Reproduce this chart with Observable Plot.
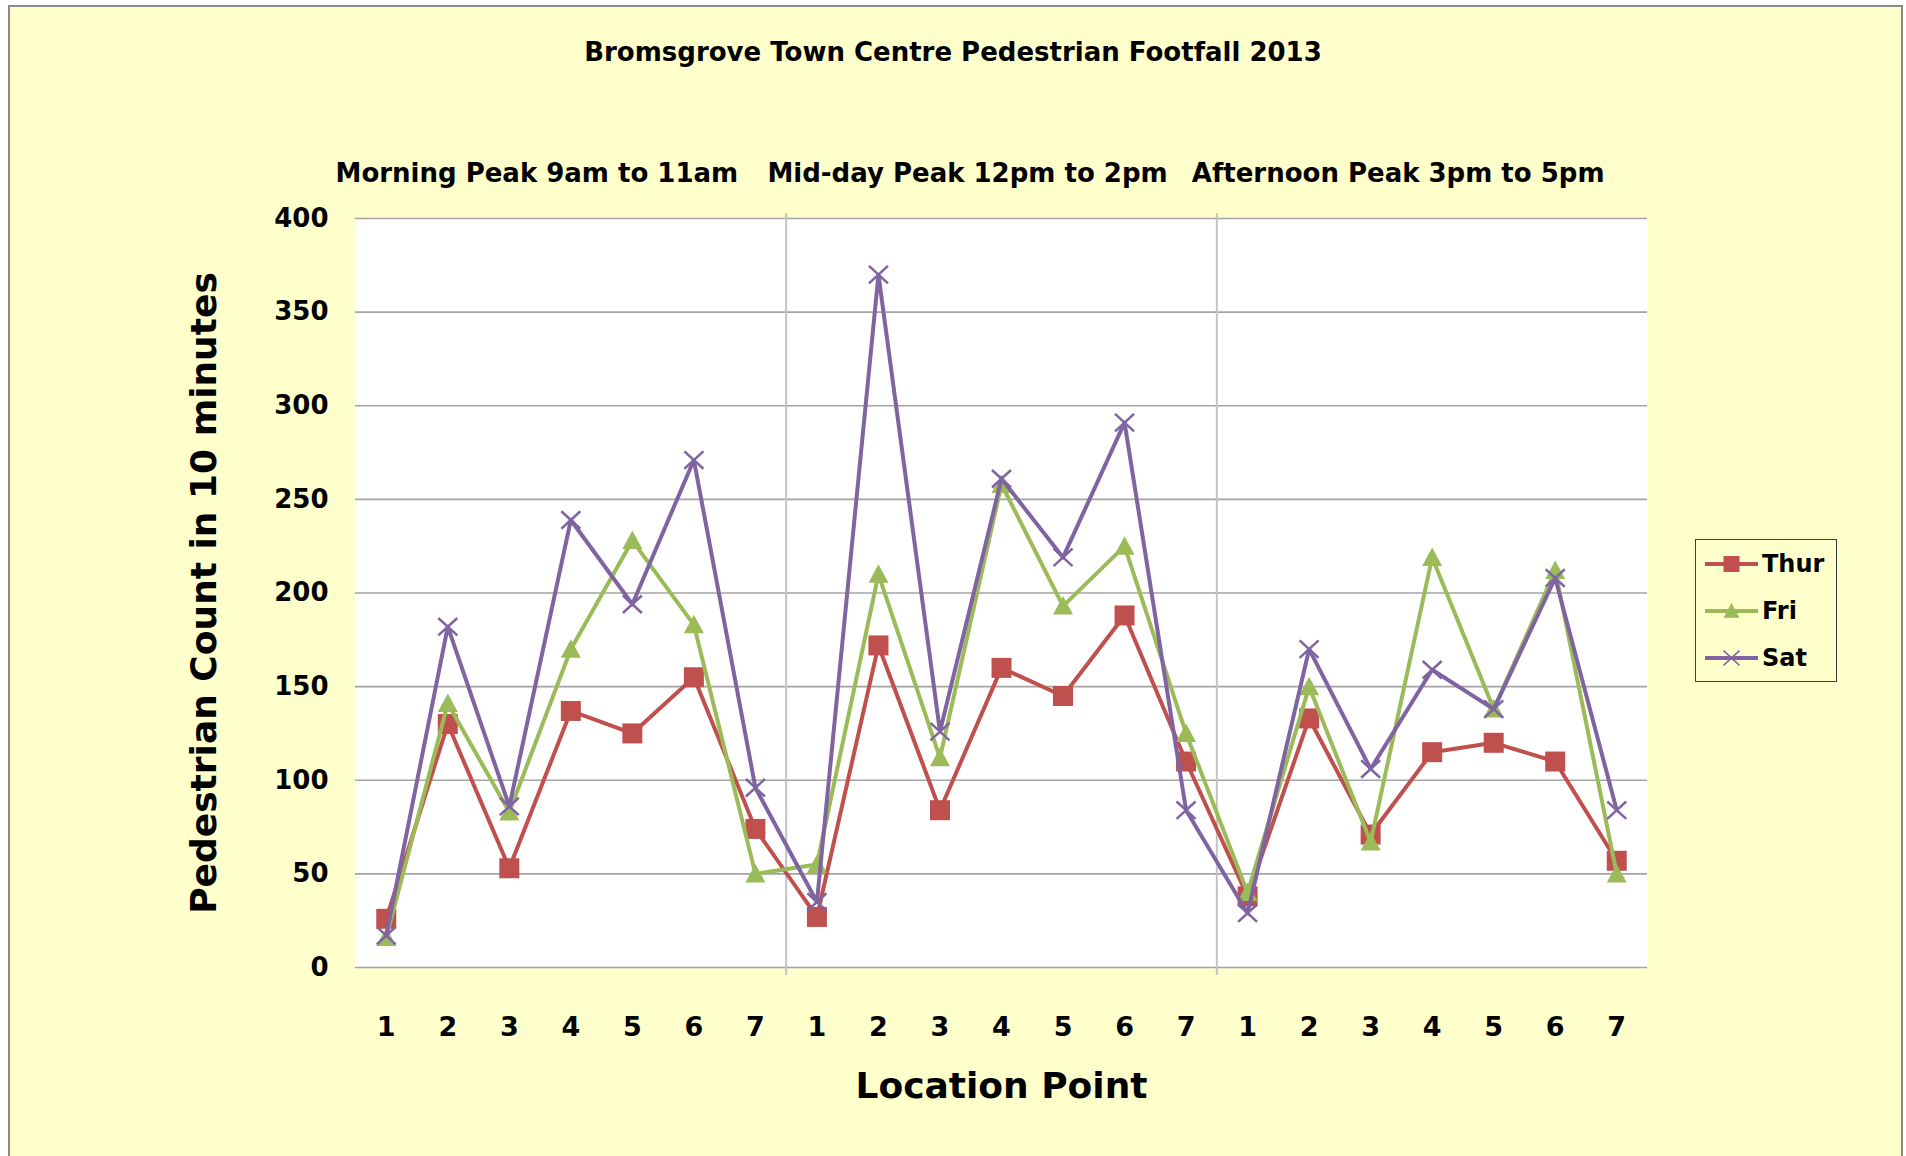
<!DOCTYPE html>
<html>
<head>
<meta charset="utf-8">
<script src="https://cdn.jsdelivr.net/npm/d3@7"></script>
<script src="https://cdn.jsdelivr.net/npm/@observablehq/plot@0.6"></script>
<style>
  html, body { margin: 0; padding: 0; background: #ffffff; overflow: hidden; width: 1906px; height: 1156px; }
  #frame { position: absolute; left: 8px; top: 5px; width: 1895px; height: 1170px; box-sizing: border-box;
           background: #FFFFCC; border: 2px solid #8a8a8a; }
  #title { position: absolute; left: 0; top: 0; width: 1906px; height: 104px; line-height: 104px; text-align: center;
           font-family: "DejaVu Sans", sans-serif; font-weight: bold; font-size: 26px; color: #000; }
  #chart { position: absolute; left: 0; top: 100px; }
  #legend { position: absolute; left: 1695px; top: 539px; width: 142px; height: 143px; box-sizing: border-box;
            border: 1.5px solid #404040; background: #FFFFCC; }
  .item { position: absolute; left: 0; height: 40px; display: flex; align-items: center;
          font-family: "DejaVu Sans", sans-serif; font-weight: bold; font-size: 24px; color: #000; }
</style>
</head>
<body>
<div id="frame"></div>
<div id="title">Bromsgrove Town Centre Pedestrian Footfall 2013</div>
<div id="chart"></div>
<div id="legend"></div>
<script>
// ---- data ----
const periods = ["Morning Peak 9am to 11am", "Mid-day Peak 12pm to 2pm", "Afternoon Peak 3pm to 5pm"];
const locations = [1, 2, 3, 4, 5, 6, 7];
const days = ["Thur", "Fri", "Sat"];
const thur = [26, 130, 53, 137, 125, 155, 74,   27, 172, 84, 160, 145, 188, 110,   38, 133, 71, 115, 120, 110, 57];
const fri  = [16, 141, 83, 170, 228, 183, 50,   55, 210, 112, 258, 193, 225, 125,  40, 150, 67, 219, 138, 212, 50];
const sat  = [17, 182, 86, 239, 194, 271, 96,   35, 370, 126, 261, 219, 291, 84,   29, 170, 106, 159, 138, 208, 84];
const yTicks = [0, 50, 100, 150, 200, 250, 300, 350, 400];

// ---- styles ----
const colors = ["#C0504D", "#9BBB59", "#8064A2"];
const rad = s => Math.sqrt(s / Math.PI);
const square = {draw(c, s) { const r = rad(s); c.rect(-r, -r, 2 * r, 2 * r); }};
const triangle = {draw(c, s) { const r = rad(s); c.moveTo(0, -r); c.lineTo(r, r * 0.85); c.lineTo(-r, r * 0.85); c.closePath(); }};
const cross = {draw(c, s) { const r = rad(s); c.moveTo(-r, -r * 0.92); c.lineTo(r, r * 0.92); c.moveTo(-r, r * 0.92); c.lineTo(r, -r * 0.92); }};
const symbols = [square, triangle, cross];
const filled = [true, true, false];

const series = [thur, fri, sat];
const rows = days.flatMap((day, s) => series[s].map((v, i) => ({i, day, v})));
const nLoc = locations.length;
const nPts = periods.length * nLoc;
const boundaries = d3.range(1, periods.length).map(g => g * nLoc - 0.5);
const headers = periods.map((p, g) => ({p, x: g * nLoc + (nLoc - 1) / 2}));

const seriesMarks = days.flatMap((day, s) => {
  const d = rows.filter(r => r.day === day);
  return [
    Plot.line(d, {x: "i", y: "v", stroke: colors[s], strokeWidth: 4, strokeLinejoin: "round"}),
    Plot.dot(d, {x: "i", y: "v", symbol: symbols[s], r: filled[s] ? 10 : 9.5,
                 fill: filled[s] ? colors[s] : "none", stroke: filled[s] ? "none" : colors[s], strokeWidth: 2.5})
  ];
});

const chart = Plot.plot({
  width: 1906,
  height: 1056,
  marginLeft: 355,
  marginRight: 259,
  marginTop: 118,
  marginBottom: 189,
  style: {background: "transparent", fontFamily: "DejaVu Sans, sans-serif", fontWeight: "bold", color: "#000", overflow: "visible"},
  x: {type: "linear", domain: [-0.5, nPts - 0.5]},
  y: {domain: [0, 400]},
  marks: [
    Plot.frame({fill: "white", stroke: "none"}),
    Plot.ruleY(yTicks, {stroke: "#a3a3a3", strokeWidth: 1.6}),
    Plot.ruleX(boundaries, {y1: 400, y2: 0, insetTop: -5, insetBottom: -8, stroke: "#c4c4c4", strokeWidth: 2}),
    Plot.axisY({ticks: yTicks, tickSize: 0, tickPadding: 27, fontSize: 26, label: null}),
    Plot.axisX({ticks: d3.range(nPts), tickFormat: i => locations[i % nLoc], tickSize: 0, tickPadding: 49, fontSize: 27, label: null}),
    Plot.text(headers, {x: "x", text: "p", frameAnchor: "top", lineAnchor: "middle", dy: -45, dx: -34, fontSize: 26}),
    Plot.text(["Pedestrian Count in 10 minutes"], {frameAnchor: "left", textAnchor: "middle", lineAnchor: "middle", dx: -151, rotate: -90, fontSize: 36}),
    Plot.text(["Location Point"], {frameAnchor: "bottom", lineAnchor: "middle", dy: 119, fontSize: 36}),
    ...seriesMarks
  ]
});
document.getElementById("chart").appendChild(chart);

// ---- legend ----
const legend = document.getElementById("legend");
days.forEach((day, s) => {
  const item = document.createElement("div");
  item.className = "item";
  item.style.top = (24 - 20 + s * 47) + "px";
  const ns = "http://www.w3.org/2000/svg";
  const svg = document.createElementNS(ns, "svg");
  svg.setAttribute("width", 66); svg.setAttribute("height", 40);
  const line = document.createElementNS(ns, "line");
  line.setAttribute("x1", 9); line.setAttribute("x2", 62); line.setAttribute("y1", 20); line.setAttribute("y2", 20);
  line.setAttribute("stroke", colors[s]); line.setAttribute("stroke-width", 4);
  svg.appendChild(line);
  const p = d3.path();
  const r = 8;
  symbols[s].draw(p, Math.PI * r * r);
  const path = document.createElementNS(ns, "path");
  path.setAttribute("d", p.toString());
  path.setAttribute("transform", "translate(35.5,20)");
  path.setAttribute("fill", filled[s] ? colors[s] : "none");
  path.setAttribute("stroke", filled[s] ? "none" : colors[s]);
  path.setAttribute("stroke-width", 1.5);
  svg.appendChild(path);
  item.appendChild(svg);
  const label = document.createElement("span");
  label.textContent = day;
  item.appendChild(label);
  legend.appendChild(item);
});
</script>
</body>
</html>
